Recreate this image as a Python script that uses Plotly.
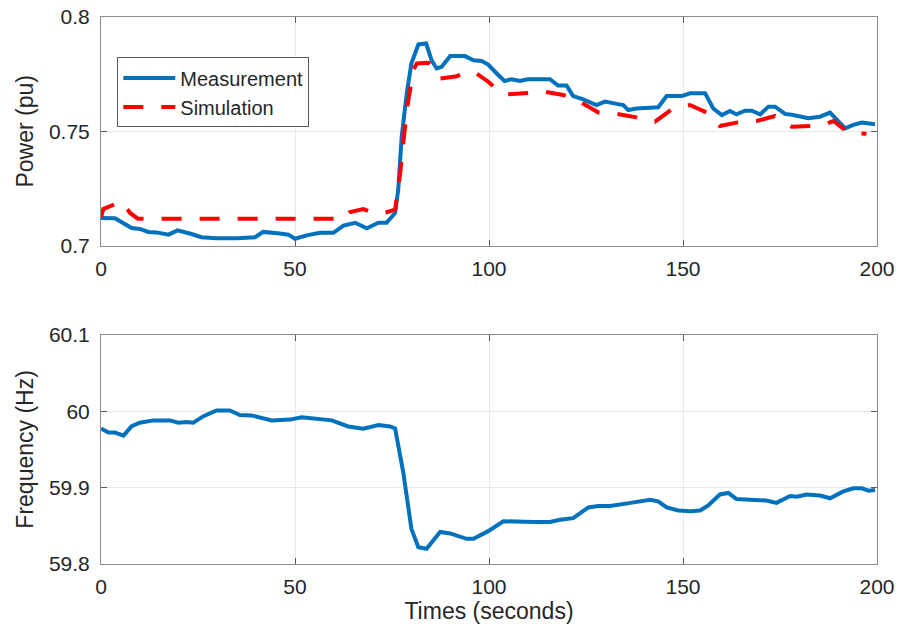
import plotly.graph_objects as go

# ---- data ----
t_meas = [0, 3.6, 7.9, 10, 12.2, 14.3, 17.4, 19.7, 22.9, 25.9, 29.8, 35, 39.7, 41.8, 46.1, 48.3, 50, 53,
          56.4, 59.9, 62.5, 65.5, 68.5, 71.5, 73.6, 75.8, 76.6, 77.5, 78.8, 80, 81.8, 83.8, 85.2, 86.5,
          87.8, 90, 93.8, 96, 98.1, 99.8, 102, 104, 105.8, 108, 110, 115.7, 117.8, 120, 121.7, 124.3,
          127.7, 129.9, 132.9, 134.6, 135.9, 138, 143.6, 145.8, 149.7, 151.8, 155.7, 157.8, 160, 162.1,
          163.8, 166, 167.7, 169.9, 172, 173.7, 176.3, 178.4, 182.3, 185.3, 187.9, 191.8, 193.9, 196.1, 199.5]
p_meas = [0.7121, 0.712, 0.7077, 0.7073, 0.706, 0.7058, 0.7048, 0.7067, 0.7053, 0.7037, 0.7032, 0.7032,
          0.7037, 0.706, 0.7053, 0.7048, 0.703, 0.7045, 0.7056, 0.7056, 0.7088, 0.71, 0.7076, 0.710, 0.710,
          0.7143, 0.7244, 0.7477, 0.7666, 0.7797, 0.788, 0.7884, 0.7811, 0.7775, 0.7782, 0.7829, 0.7829,
          0.7811, 0.7808, 0.7792, 0.7753, 0.772, 0.7728, 0.772, 0.7728, 0.7728, 0.770, 0.770, 0.7654, 0.764,
          0.7615, 0.763, 0.762, 0.7615, 0.7593, 0.760, 0.7605, 0.7654, 0.7654, 0.7666, 0.7666, 0.760, 0.7571,
          0.7589, 0.7574, 0.759, 0.759, 0.7574, 0.7608, 0.7608, 0.7576, 0.7571, 0.7557, 0.7564, 0.7582,
          0.7513, 0.7528, 0.7538, 0.7531]

t_sim = [0, 0.6, 5.3, 7.5, 9.5, 62.5, 64, 67.6, 70, 72.3, 75.8, 77.1, 78.8, 80.5, 81.4, 84.4, 87.4, 91.7,
         94.7, 96.4, 99.8, 102, 104, 109.7, 114.4, 119.1, 123.4, 128.2, 132.9, 138, 140.6, 142.8, 147.1,
         151.8, 156.5, 159.5, 163.8, 169, 173.7, 178, 183.2, 186.6, 188.8, 192.6, 197.3]
p_sim = [0.7125, 0.716, 0.7194, 0.7143, 0.7118, 0.7118, 0.7146, 0.716, 0.7145, 0.714, 0.7157, 0.7317,
         0.7593, 0.7768, 0.7797, 0.780, 0.7731, 0.7741, 0.776, 0.7757, 0.7717, 0.7683, 0.7661, 0.7669,
         0.7673, 0.7659, 0.763, 0.7582, 0.7576, 0.7561, 0.7545, 0.7542, 0.7596, 0.7615, 0.7579, 0.7523,
         0.7538, 0.7545, 0.7567, 0.752, 0.7523, 0.7531, 0.7545, 0.7494, 0.7489]

t_freq = [0, 1.9, 3.6, 5.8, 7.9, 10, 13.5, 17.8, 19.9, 22.1, 23.8, 26.4, 29.8, 33.2, 35.8, 38.8, 44, 48.7,
          51.7, 56.4, 59.5, 63.7, 67.6, 71.5, 74.5, 75.8, 77.9, 80, 81.8, 83.9, 87.4, 90, 94.2, 96, 99.8,
          103.7, 107.6, 111.4, 115.7, 118.3, 121.7, 125.6, 128.2, 131.2, 136.5, 141.5, 143.6, 145.8, 148.8,
          151.8, 154.4, 156.5, 159.5, 161.7, 163.8, 167.3, 171.5, 174.1, 177.6, 179.3, 181.8, 185.3, 187.9,
          191.3, 193.9, 196.1, 197.8, 199.5]
f_meas = [59.9775, 59.972, 59.972, 59.968, 59.9805, 59.985, 59.988, 59.988, 59.985, 59.986, 59.985, 59.9935,
          60.001, 60.001, 59.995, 59.9945, 59.988, 59.989, 59.992, 59.989, 59.988, 59.980, 59.977, 59.982,
          59.980, 59.9775, 59.92, 59.846, 59.822, 59.820, 59.842, 59.840, 59.833, 59.833, 59.843, 59.856,
          59.855, 59.855, 59.855, 59.858, 59.860, 59.874, 59.876, 59.876, 59.880, 59.884, 59.882, 59.874,
          59.870, 59.869, 59.870, 59.8766, 59.891, 59.893, 59.885, 59.884, 59.883, 59.880, 59.889, 59.888,
          59.891, 59.8896, 59.886, 59.895, 59.899, 59.899, 59.896, 59.897]

x_ticks = [0, 50, 100, 150, 200]
p_ticks = [0.7, 0.75, 0.8]
p_ticktext = ["0.7", "0.75", "0.8"]
f_ticks = [59.8, 59.9, 60.0, 60.1]
f_ticktext = ["59.8", "59.9", "60", "60.1"]

BLUE = "#0072BD"
RED = "#FF0000"
FONT = "Liberation Sans, Arial, sans-serif"
TXT = "#262626"

fig = go.Figure()
fig.add_trace(go.Scatter(x=t_meas, y=p_meas, mode="lines", name="Measurement",
                         line=dict(color=BLUE, width=4), xaxis="x", yaxis="y"))
fig.add_trace(go.Scatter(x=t_sim, y=p_sim, mode="lines", name="Simulation",
                         line=dict(color=RED, width=4, dash="20px,18px"), xaxis="x", yaxis="y"))
fig.add_trace(go.Scatter(x=t_freq, y=f_meas, mode="lines", name="Frequency", showlegend=False,
                         line=dict(color=BLUE, width=4), xaxis="x2", yaxis="y2"))

axcommon = dict(showline=True, linecolor="#8c8c8c", linewidth=1, mirror="ticks",
                ticks="inside", ticklen=6, tickcolor="#5a5a5a", automargin=False,
                showgrid=True, gridcolor="#e8e8e8", gridwidth=1, zeroline=False,
                tickfont=dict(family=FONT, size=21, color=TXT))

fig.update_layout(
    width=899, height=630,
    margin=dict(l=101, r=22, t=17, b=66),
    paper_bgcolor="white", plot_bgcolor="white",
    font=dict(family=FONT, color=TXT),
    xaxis=dict(domain=[0, 1], range=[0, 200], tickvals=x_ticks, anchor="y", ticklabelstandoff=4, **axcommon),
    yaxis=dict(domain=[0.582, 1], range=[0.7, 0.8], tickvals=p_ticks, ticktext=p_ticktext, anchor="x",
               ticklabelstandoff=6,
               title=dict(text="Power (pu)", font=dict(family=FONT, size=23, color=TXT), standoff=8),
               **axcommon),
    xaxis2=dict(domain=[0, 1], range=[0, 200], tickvals=x_ticks, anchor="y2", ticklabelstandoff=4,
                title=dict(text="Times (seconds)", font=dict(family=FONT, size=23, color=TXT), standoff=2),
                **axcommon),
    yaxis2=dict(domain=[0, 0.419], range=[59.8, 60.1], tickvals=f_ticks, ticktext=f_ticktext, anchor="x2",
                ticklabelstandoff=6,
                title=dict(text="Frequency (Hz)", font=dict(family=FONT, size=23, color=TXT), standoff=8),
                **axcommon),
    legend=dict(x=0.021, y=0.926, xanchor="left", yanchor="top",
                bgcolor="white", bordercolor="#5a5a5a", borderwidth=1,
                font=dict(family=FONT, size=20, color=TXT), itemwidth=52,
                tracegroupgap=0),
    showlegend=True,
)

fig.write_html("out.html", post_script="document.body.style.margin='0';",
               config={"displayModeBar": False})
